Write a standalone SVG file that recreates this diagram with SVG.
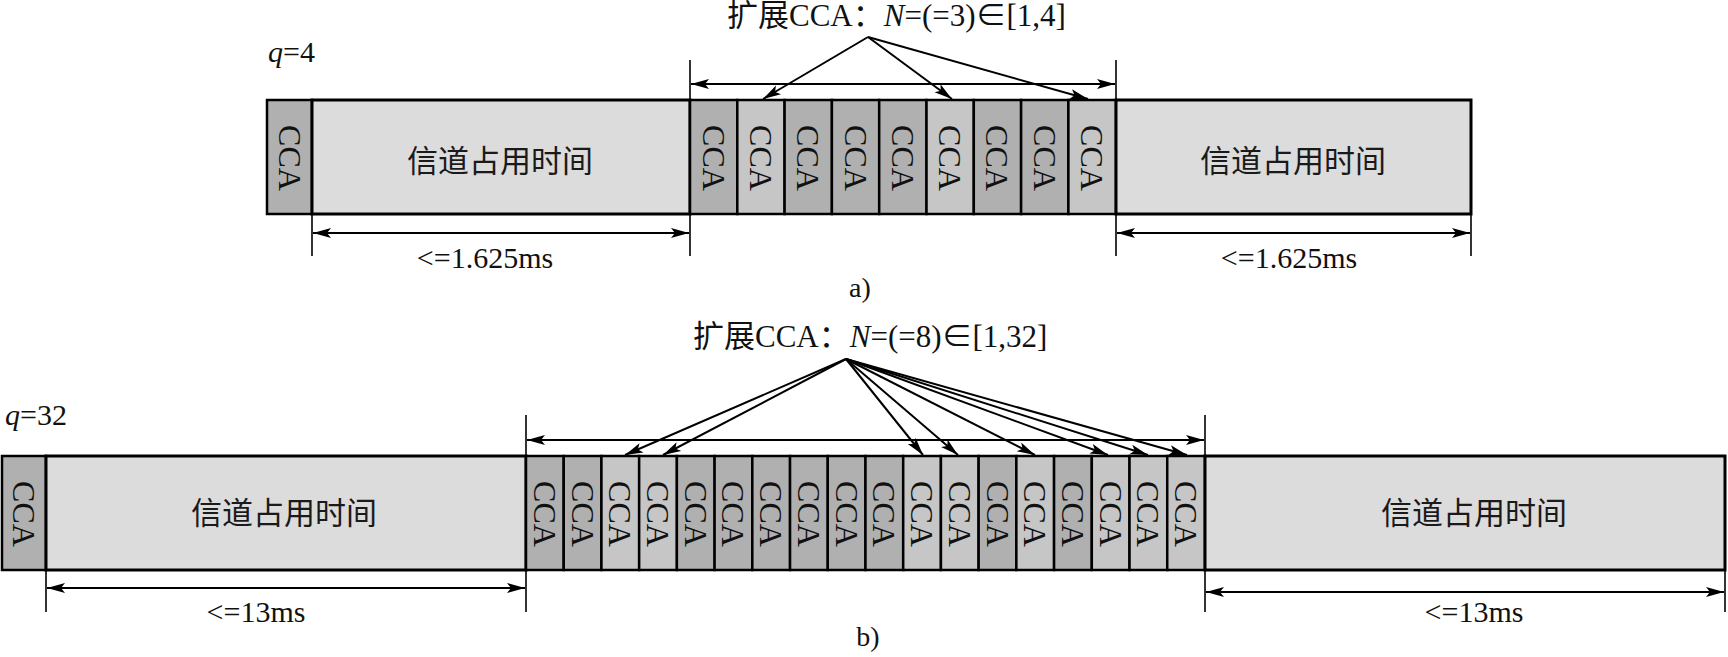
<svg xmlns="http://www.w3.org/2000/svg" width="1728" height="657" viewBox="0 0 1728 657">
<defs>
<style>
.t{font-family:"Liberation Serif","Noto Sans CJK SC",serif;fill:#111}
.cj{font-family:"Noto Sans CJK SC","Liberation Serif",sans-serif;fill:#1a1a1a;font-size:31px;text-anchor:middle}
.box{fill:#dcdcdc;stroke:#000;stroke-width:3}
.dk{fill:#b0b0b0;stroke:#000;stroke-width:2.5}
.lt{fill:#c6c6c6;stroke:#000;stroke-width:2.5}
.cca{font-family:"Liberation Serif",serif;font-size:32px;fill:#111;text-anchor:middle;dominant-baseline:central}
.dim{stroke:#000;stroke-width:2;fill:none;marker-end:url(#ah);marker-start:url(#ah)}
.tick{stroke:#000;stroke-width:1.6;fill:none}
.ptr{stroke:#000;stroke-width:2;fill:none;marker-end:url(#ah)}
.dt{font-size:30px;text-anchor:middle}
</style>
<marker id="ah" viewBox="-1 -6 20 12" markerUnits="userSpaceOnUse" markerWidth="20" markerHeight="12" refX="18" refY="0" orient="auto-start-reverse">
<path d="M0,-5 L18,0 L0,5 L4,0 z" fill="#000"/>
</marker>
</defs>
<rect width="1728" height="657" fill="#fff"/>

<!-- Part a -->
<g id="a-labels">
<text class="t" x="268" y="62" font-size="30"><tspan font-style="italic">q</tspan>=4</text>
<text class="t" x="727" y="26" font-size="31">扩展CCA：<tspan font-style="italic">N</tspan>=(=3)∈[1,4]</text>
<text class="t" x="860" y="297" font-size="28" text-anchor="middle">a)</text>
</g>
<g id="a-cca0"><rect class="dk" x="267" y="100" width="45" height="114"/><text class="cca" transform="translate(289.5 158) rotate(90)">CCA</text></g>
<g id="a-occ1"><rect class="box" x="312" y="100" width="378" height="114"/><text class="cj" x="500" y="172">信道占用时间</text></g>
<g id="a-ext">
<rect class="dk" x="690" y="100" width="47.3" height="114"/>
<rect class="lt" x="737.3" y="100" width="47.3" height="114"/>
<rect class="dk" x="784.6" y="100" width="47.3" height="114"/>
<rect class="dk" x="831.9" y="100" width="47.3" height="114"/>
<rect class="dk" x="879.2" y="100" width="47.3" height="114"/>
<rect class="lt" x="926.5" y="100" width="47.3" height="114"/>
<rect class="dk" x="973.8" y="100" width="47.3" height="114"/>
<rect class="dk" x="1021.1" y="100" width="47.3" height="114"/>
<rect class="lt" x="1068.4" y="100" width="47.6" height="114"/>
<text class="cca" transform="translate(713.6 158) rotate(90)">CCA</text>
<text class="cca" transform="translate(760.9 158) rotate(90)">CCA</text>
<text class="cca" transform="translate(808.2 158) rotate(90)">CCA</text>
<text class="cca" transform="translate(855.5 158) rotate(90)">CCA</text>
<text class="cca" transform="translate(902.8 158) rotate(90)">CCA</text>
<text class="cca" transform="translate(950.1 158) rotate(90)">CCA</text>
<text class="cca" transform="translate(997.4 158) rotate(90)">CCA</text>
<text class="cca" transform="translate(1044.7 158) rotate(90)">CCA</text>
<text class="cca" transform="translate(1092.2 158) rotate(90)">CCA</text>
</g>
<g id="a-occ2"><rect class="box" x="1116" y="100" width="355" height="114"/><text class="cj" x="1293" y="172">信道占用时间</text></g>

<!-- Part b -->
<g id="b-labels">
<text class="t" x="5" y="425" font-size="30"><tspan font-style="italic">q</tspan>=32</text>
<text class="t" x="693" y="347" font-size="31">扩展CCA：<tspan font-style="italic">N</tspan>=(=8)∈[1,32]</text>
<text class="t" x="868" y="646" font-size="28" text-anchor="middle">b)</text>
</g>
<g id="b-cca0"><rect class="dk" x="2" y="456" width="44" height="114"/><text class="cca" transform="translate(24 514) rotate(90)">CCA</text></g>
<g id="b-occ1"><rect class="box" x="46" y="456" width="480" height="114"/><text class="cj" x="284" y="524">信道占用时间</text></g>
<g id="b-ext">
<rect class="dk" x="526" y="456" width="37.72" height="114"/>
<rect class="dk" x="563.72" y="456" width="37.72" height="114"/>
<rect class="lt" x="601.44" y="456" width="37.72" height="114"/>
<rect class="lt" x="639.16" y="456" width="37.72" height="114"/>
<rect class="dk" x="676.88" y="456" width="37.72" height="114"/>
<rect class="dk" x="714.6" y="456" width="37.72" height="114"/>
<rect class="dk" x="752.32" y="456" width="37.72" height="114"/>
<rect class="dk" x="790.04" y="456" width="37.72" height="114"/>
<rect class="dk" x="827.76" y="456" width="37.72" height="114"/>
<rect class="dk" x="865.48" y="456" width="37.72" height="114"/>
<rect class="lt" x="903.2" y="456" width="37.72" height="114"/>
<rect class="lt" x="940.92" y="456" width="37.72" height="114"/>
<rect class="dk" x="978.64" y="456" width="37.72" height="114"/>
<rect class="lt" x="1016.36" y="456" width="37.72" height="114"/>
<rect class="dk" x="1054.08" y="456" width="37.72" height="114"/>
<rect class="lt" x="1091.8" y="456" width="37.72" height="114"/>
<rect class="lt" x="1129.52" y="456" width="37.72" height="114"/>
<rect class="lt" x="1167.24" y="456" width="37.76" height="114"/>
<text class="cca" transform="translate(544.86 514) rotate(90)">CCA</text>
<text class="cca" transform="translate(582.58 514) rotate(90)">CCA</text>
<text class="cca" transform="translate(620.3 514) rotate(90)">CCA</text>
<text class="cca" transform="translate(658.02 514) rotate(90)">CCA</text>
<text class="cca" transform="translate(695.74 514) rotate(90)">CCA</text>
<text class="cca" transform="translate(733.46 514) rotate(90)">CCA</text>
<text class="cca" transform="translate(771.18 514) rotate(90)">CCA</text>
<text class="cca" transform="translate(808.9 514) rotate(90)">CCA</text>
<text class="cca" transform="translate(846.62 514) rotate(90)">CCA</text>
<text class="cca" transform="translate(884.34 514) rotate(90)">CCA</text>
<text class="cca" transform="translate(922.06 514) rotate(90)">CCA</text>
<text class="cca" transform="translate(959.78 514) rotate(90)">CCA</text>
<text class="cca" transform="translate(997.5 514) rotate(90)">CCA</text>
<text class="cca" transform="translate(1035.22 514) rotate(90)">CCA</text>
<text class="cca" transform="translate(1072.94 514) rotate(90)">CCA</text>
<text class="cca" transform="translate(1110.66 514) rotate(90)">CCA</text>
<text class="cca" transform="translate(1148.38 514) rotate(90)">CCA</text>
<text class="cca" transform="translate(1186.1 514) rotate(90)">CCA</text>
</g>
<g id="b-occ2"><rect class="box" x="1205" y="456" width="520" height="114"/><text class="cj" x="1474" y="524">信道占用时间</text></g>

<g id="connectors">
<!-- a ticks -->
<line class="tick" x1="690" y1="60" x2="690" y2="256"/>
<line class="tick" x1="1116" y1="60" x2="1116" y2="256"/>
<line class="tick" x1="312" y1="214" x2="312" y2="256"/>
<line class="tick" x1="1471" y1="214" x2="1471" y2="256"/>
<line class="dim" x1="691" y1="84" x2="1115" y2="84"/>
<line class="dim" x1="313" y1="233" x2="689" y2="233"/>
<line class="dim" x1="1117" y1="233" x2="1470" y2="233"/>
<line class="ptr" x1="868" y1="37" x2="763" y2="99"/>
<line class="ptr" x1="868" y1="37" x2="952" y2="99"/>
<line class="ptr" x1="868" y1="37" x2="1088" y2="99"/>
<!-- b ticks -->
<line class="tick" x1="526" y1="415" x2="526" y2="612"/>
<line class="tick" x1="1205" y1="415" x2="1205" y2="612"/>
<line class="tick" x1="46" y1="570" x2="46" y2="612"/>
<line class="tick" x1="1725" y1="570" x2="1725" y2="612"/>
<line class="dim" x1="527" y1="440" x2="1204" y2="440"/>
<line class="dim" x1="47" y1="588" x2="525" y2="588"/>
<line class="dim" x1="1206" y1="592" x2="1724" y2="592"/>
<line class="ptr" x1="846" y1="359" x2="625" y2="455"/>
<line class="ptr" x1="846" y1="359" x2="663" y2="455"/>
<line class="ptr" x1="846" y1="359" x2="923" y2="455"/>
<line class="ptr" x1="846" y1="359" x2="958" y2="455"/>
<line class="ptr" x1="846" y1="359" x2="1035" y2="455"/>
<line class="ptr" x1="846" y1="359" x2="1108" y2="455"/>
<line class="ptr" x1="846" y1="359" x2="1148" y2="455"/>
<line class="ptr" x1="846" y1="359" x2="1187" y2="455"/>
</g>
<g id="dim-labels">
<text class="t dt" x="485" y="268">&lt;=1.625ms</text>
<text class="t dt" x="1289" y="268">&lt;=1.625ms</text>
<text class="t dt" x="256" y="622">&lt;=13ms</text>
<text class="t dt" x="1474" y="622">&lt;=13ms</text>
</g>
</svg>
